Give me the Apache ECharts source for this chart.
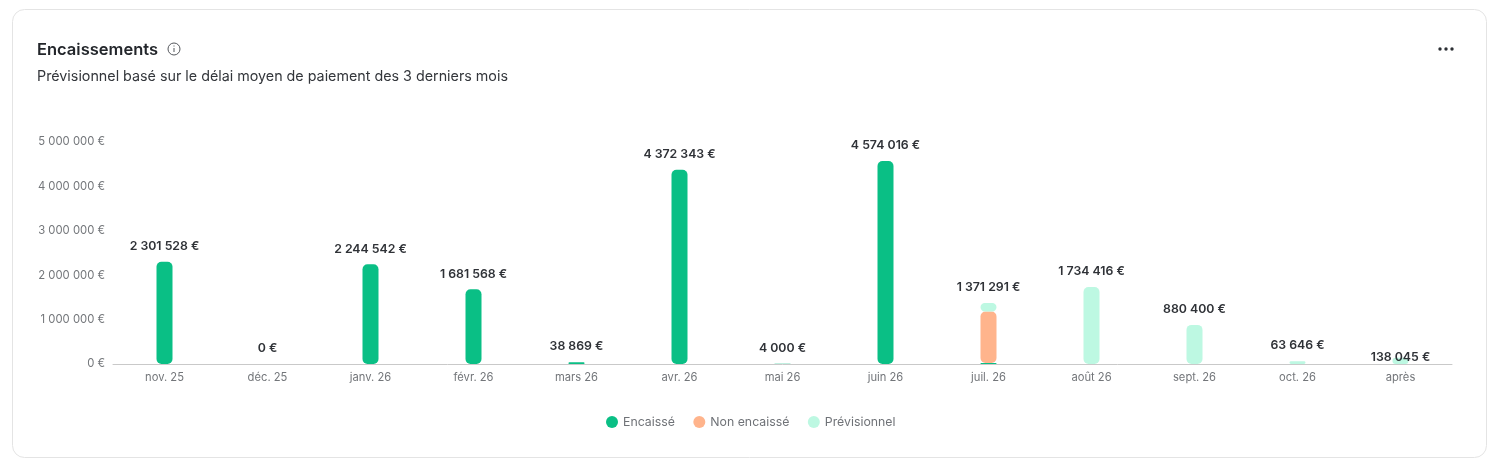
<!DOCTYPE html>
<html lang="fr">
<head>
<meta charset="utf-8">
<title>Encaissements</title>
<style>
  html, body { margin: 0; padding: 0; background: #fff; }
  #chart { width: 1503px; height: 468px; }
</style>
<script src="https://cdn.jsdelivr.net/npm/echarts@6/dist/echarts.min.js"></script>
</head>
<body>
<div id="chart"></div>
<script>
const months = ['nov. 25', 'déc. 25', 'janv. 26', 'févr. 26', 'mars 26', 'avr. 26', 'mai 26', 'juin 26', 'juil. 26', 'août 26', 'sept. 26', 'oct. 26', 'après'];
const encaisse = [2301528, 0, 2244542, 1681568, 38869, 4372343, 4000, 4574016, 25000, 0, 0, 0, 0];
const nonEncaisse = [0, 0, 0, 0, 0, 0, 0, 0, 1156291, 0, 0, 0, 0];
const previsionnel = [0, 0, 0, 0, 0, 0, 0, 0, 190000, 1734416, 880400, 63646, 138045];
const totals = [2301528, 0, 2244542, 1681568, 38869, 4372343, 4000, 4574016, 1371291, 1734416, 880400, 63646, 138045];
const yTicks = [0, 1000000, 2000000, 3000000, 4000000, 5000000];

const FONT = 'Inter, "Noto Sans", sans-serif';
const euros = v => String(Math.round(v)).replace(/\B(?=(\d{3})+$)/g, ' ') + ' €';

const barSeries = (name, data, color) => ({
  name,
  type: 'bar',
  stack: 'montant',
  data,
  barWidth: 16,
  itemStyle: { color, borderRadius: 5 },
  emphasis: { disabled: true }
});

const chart = echarts.init(document.getElementById('chart'), null, { renderer: 'canvas' });
chart.setOption({
  animation: false,
  backgroundColor: '#ffffff',
  title: {
    text: 'Encaissements',
    subtext: 'Prévisionnel basé sur le délai moyen de paiement des 3 derniers mois',
    left: 37,
    top: 40,
    itemGap: 8,
    padding: 0,
    textStyle: { fontFamily: FONT, fontSize: 16.5, fontWeight: 600, color: '#23262b', lineHeight: 20 },
    subtextStyle: { fontFamily: FONT, fontSize: 14.3, color: '#33363b', lineHeight: 18 }
  },
  grid: { left: 113, right: 51, top: 142, bottom: 104 },
  legend: {
    data: ['Encaissé', 'Non encaissé', 'Prévisionnel'],
    top: 411,
    left: 601,
    icon: 'circle',
    itemWidth: 12,
    itemHeight: 12,
    itemGap: 18.5,
    textStyle: { fontFamily: FONT, fontSize: 12.3, color: '#6f7277', padding: [0, 0, 0, 0] }
  },
  xAxis: {
    type: 'category',
    data: months,
    axisTick: { show: false },
    axisLine: { lineStyle: { color: '#c9c9c9', width: 1 } },
    axisLabel: { fontFamily: FONT, fontSize: 11.2, color: '#73767a', margin: 8, interval: 0 }
  },
  yAxis: {
    type: 'value',
    min: yTicks[0],
    max: yTicks[yTicks.length - 1],
    interval: yTicks[1] - yTicks[0],
    splitLine: { show: false },
    axisLine: { show: false },
    axisTick: { show: false },
    axisLabel: { fontFamily: FONT, fontSize: 11.3, color: '#73767a', margin: 8, formatter: euros }
  },
  series: [
    barSeries('Encaissé', encaisse, '#0abf85'),
    barSeries('Non encaissé', nonEncaisse, '#ffb48c'),
    barSeries('Prévisionnel', previsionnel, '#bdf8e2'),
    {
      name: 'Total',
      type: 'line',
      data: totals.map((value, i) => ({
        value,
        // the last label sits lower, against its bar
        label: months[i] === 'après' ? { offset: [0, 15] } : {}
      })),
      symbol: 'circle',
      symbolSize: 1,
      itemStyle: { color: 'transparent' },
      lineStyle: { opacity: 0 },
      silent: true,
      z: 5,
      label: {
        show: true,
        position: 'top',
        distance: 9,
        fontFamily: FONT,
        fontSize: 12.3,
        fontWeight: 600,
        color: '#2f3237',
        formatter: p => euros(p.value)
      }
    }
  ],
  graphic: [
    {
      type: 'rect', silent: true, z: -10,
      shape: { x: 12.5, y: 9.5, width: 1474, height: 448, r: 12 },
      style: { fill: '#ffffff', stroke: '#e4e4e4', lineWidth: 1 }
    },
    // info icon next to the heading
    { type: 'circle', silent: true, shape: { cx: 174, cy: 49, r: 6 }, style: { fill: 'none', stroke: '#55585d', lineWidth: 1 } },
    { type: 'rect', silent: true, shape: { x: 173.5, y: 48, width: 1, height: 4 }, style: { fill: '#55585d' } },
    { type: 'rect', silent: true, shape: { x: 173.5, y: 45.5, width: 1, height: 1 }, style: { fill: '#55585d' } },
    // overflow menu dots
    { type: 'circle', silent: true, shape: { cx: 1440, cy: 49, r: 1.7 }, style: { fill: '#2c2f34' } },
    { type: 'circle', silent: true, shape: { cx: 1446, cy: 49, r: 1.7 }, style: { fill: '#2c2f34' } },
    { type: 'circle', silent: true, shape: { cx: 1452, cy: 49, r: 1.7 }, style: { fill: '#2c2f34' } }
  ]
});
</script>
</body>
</html>
